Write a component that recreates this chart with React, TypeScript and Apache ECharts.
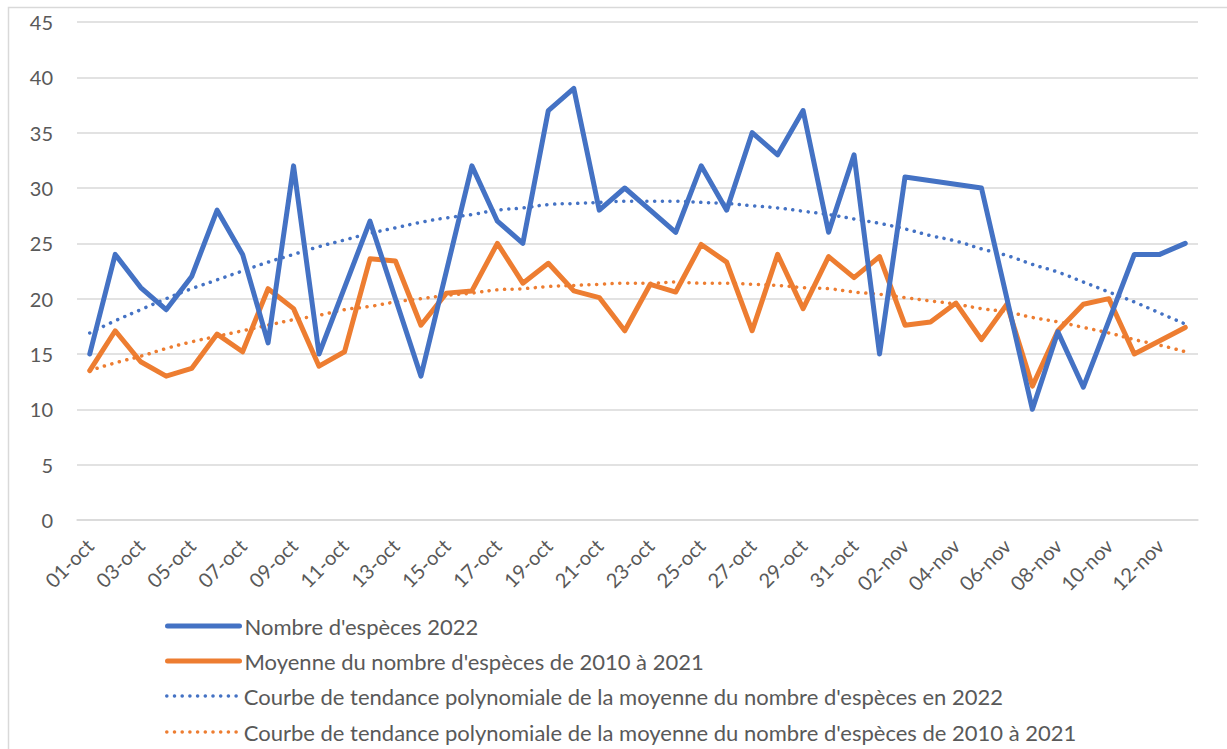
import React, { useEffect, useRef } from "react";
import * as echarts from "echarts";

const categories = [
  "01-oct","02-oct","03-oct","04-oct","05-oct","06-oct","07-oct","08-oct","09-oct","10-oct",
  "11-oct","12-oct","13-oct","14-oct","15-oct","16-oct","17-oct","18-oct","19-oct","20-oct",
  "21-oct","22-oct","23-oct","24-oct","25-oct","26-oct","27-oct","28-oct","29-oct","30-oct",
  "31-oct","01-nov","02-nov","03-nov","04-nov","05-nov","06-nov","07-nov","08-nov","09-nov",
  "10-nov","11-nov","12-nov","13-nov"
];

const species2022 = [
  15, 24, 21, 19, 22, 28, 24, 16, 32, 15,
  21, 27, 20, 13, null, 32, 27, 25, 37, 39,
  28, 30, 28, 26, 32, 28, 35, 33, 37, 26,
  33, 15, 31, null, null, 30, 20, 10, 17, 12,
  18, 24, 24, 25
];

const average2010_2021 = [
  13.5, 17.1, 14.3, 13.0, 13.7, 16.8, 15.2, 20.9, 19.1, 13.9,
  15.2, 23.6, 23.4, 17.6, 20.5, 20.7, 25.0, 21.4, 23.2, 20.7,
  20.1, 17.1, 21.3, 20.6, 24.9, 23.3, 17.1, 24.0, 19.1, 23.8,
  21.9, 23.8, 17.6, 17.9, 19.6, 16.3, 19.5, 12.1, 17.1, 19.5,
  20.0, 15.0, 16.2, 17.4
];

const trend2022 = [
  16.9, 18.0, 19.0, 20.0, 20.9, 21.7, 22.5, 23.3, 24.0, 24.7,
  25.3, 25.9, 26.4, 26.9, 27.3, 27.6, 28.0, 28.2, 28.5, 28.6,
  28.7, 28.8, 28.8, 28.8, 28.7, 28.6, 28.4, 28.2, 27.9, 27.6,
  27.2, 26.8, 26.3, 25.7, 25.2, 24.5, 23.9, 23.1, 22.4, 21.5,
  20.6, 19.7, 18.7, 17.7
];

const trend2010_2021 = [
  13.5, 14.2, 14.8, 15.5, 16.1, 16.6, 17.1, 17.6, 18.1, 18.5,
  19.0, 19.3, 19.7, 20.0, 20.3, 20.5, 20.8, 20.9, 21.1, 21.2,
  21.3, 21.4, 21.4, 21.5, 21.4, 21.4, 21.3, 21.2, 21.0, 20.9,
  20.6, 20.4, 20.1, 19.8, 19.5, 19.1, 18.8, 18.3, 17.9, 17.4,
  16.9, 16.3, 15.8, 15.2
];

const yTicks = { min: 0, max: 45, interval: 5 };

const seriesNames = [
  "Nombre d'espèces 2022",
  "Moyenne du nombre d'espèces de 2010 à 2021",
  "Courbe de tendance polynomiale de la moyenne du nombre d'espèces en 2022",
  "Courbe de tendance polynomiale de la moyenne du nombre d'espèces de 2010 à 2021",
];

const BLUE = "#4472C4";
const ORANGE = "#ED7D31";
const TEXT = "#595959";
const GRID = "#D9D9D9";
const FONT = "Lato, 'Open Sans', sans-serif";
const DOTS: number[] = [0.1, 7.6];

const legendTops = [610, 645, 680, 716];
const legendLines = [
  { color: BLUE, width: 5, type: "solid" as any },
  { color: ORANGE, width: 5, type: "solid" as any },
  { color: BLUE, width: 3.5, type: DOTS as any },
  { color: ORANGE, width: 3.5, type: DOTS as any },
];

export default function App() {
  const ref = useRef<HTMLDivElement>(null);
  useEffect(() => {
    if (!ref.current) return;
    const chart = echarts.init(ref.current, undefined, { renderer: "svg" });
    chart.setOption({
      animation: false,
      backgroundColor: "#ffffff",
      textStyle: { fontFamily: FONT },
      grid: { left: 77, right: 29, top: 22, bottom: 229, containLabel: false },
      graphic: [
        {
          type: "rect",
          shape: { x: 8.5, y: 7.5, width: 1400, height: 900 },
          style: { fill: "none", stroke: GRID, lineWidth: 1.5 },
          silent: true,
        },
      ],
      xAxis: {
        type: "category",
        data: categories,
        boundaryGap: true,
        axisTick: { show: false },
        axisLine: { show: true, lineStyle: { color: GRID, width: 1.5 } },
        axisLabel: {
          interval: 1,
          rotate: 45,
          color: TEXT,
          fontSize: 20,
          fontFamily: FONT,
          margin: 22,
        },
        splitLine: { show: false },
      },
      yAxis: {
        type: "value",
        min: yTicks.min,
        max: yTicks.max,
        interval: yTicks.interval,
        axisLine: { show: false },
        axisTick: { show: false },
        axisLabel: { color: TEXT, fontSize: 20, fontFamily: FONT, margin: 24 },
        splitLine: { lineStyle: { color: GRID, width: 1.5 } },
      },
      legend: seriesNames.map((name, i) => ({
        orient: "vertical",
        left: 160,
        top: legendTops[i],
        itemWidth: 72,
        itemHeight: 12,
        itemGap: 0,
        data: [name],
        itemStyle: { color: "rgba(0,0,0,0)", borderWidth: 0, opacity: 0 },
        lineStyle: { ...legendLines[i], cap: "round" },
        textStyle: { color: TEXT, fontSize: 22, fontFamily: FONT },
      })),
      series: [
        {
          name: seriesNames[0],
          type: "line",
          data: species2022,
          connectNulls: true,
          symbol: "none",
          lineStyle: { color: BLUE, width: 5, cap: "round", join: "round" },
          itemStyle: { color: BLUE },
          z: 4,
        },
        {
          name: seriesNames[1],
          type: "line",
          data: average2010_2021,
          symbol: "none",
          lineStyle: { color: ORANGE, width: 5, cap: "round", join: "round" },
          itemStyle: { color: ORANGE },
          z: 3,
        },
        {
          name: seriesNames[2],
          type: "line",
          data: trend2022,
          symbol: "none",
          smooth: true,
          lineStyle: { color: BLUE, width: 3.5, type: DOTS, cap: "round" },
          itemStyle: { color: BLUE },
          z: 2,
        },
        {
          name: seriesNames[3],
          type: "line",
          data: trend2010_2021,
          symbol: "none",
          smooth: true,
          lineStyle: { color: ORANGE, width: 3.5, type: DOTS, cap: "round" },
          itemStyle: { color: ORANGE },
          z: 2,
        },
      ],
    });
    return () => chart.dispose();
  }, []);
  return (
    <div
      ref={ref}
      style={{ position: "fixed", left: 0, top: 0, width: 1227, height: 749, background: "#fff" }}
    />
  );
}
